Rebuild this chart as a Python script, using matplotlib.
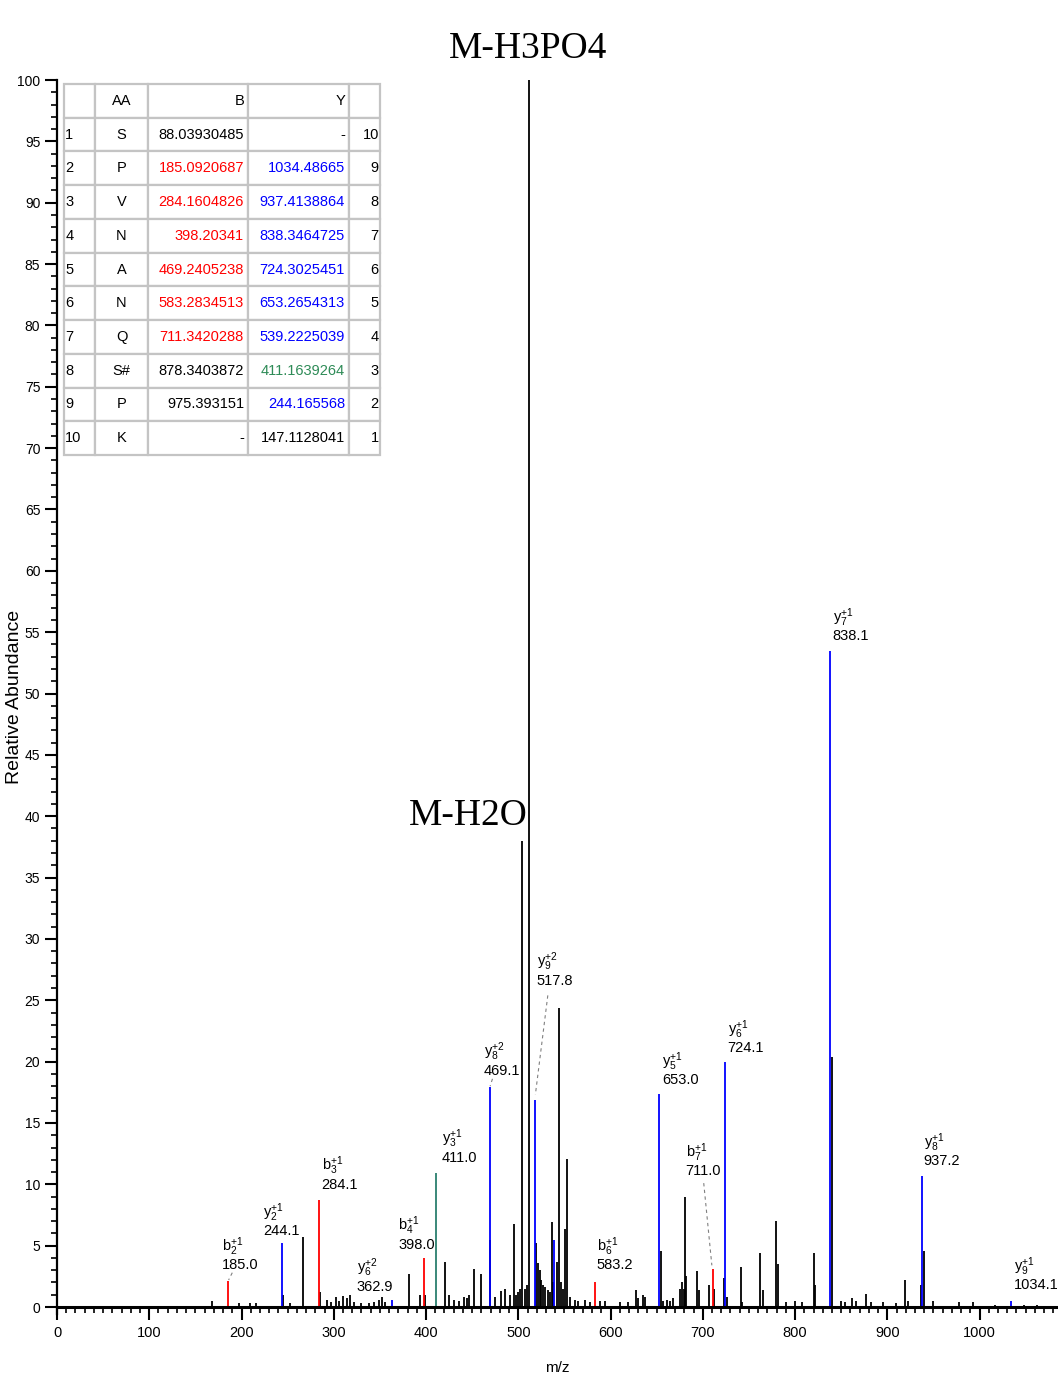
import matplotlib.pyplot as plt
from matplotlib.ticker import MultipleLocator
from matplotlib.table import Table
from matplotlib.font_manager import FontProperties

sans = ['Liberation Sans', 'DejaVu Sans']
plt.rcParams['font.family'] = sans
plt.rcParams['mathtext.fontset'] = 'custom'
plt.rcParams['mathtext.rm'] = 'Liberation Sans'
plt.rcParams['mathtext.it'] = 'Liberation Sans'

# assigned fragment ions
ion_mz = [185.0, 244.1, 284.1, 362.9, 398.0, 411.0, 469.1, 517.8, 539.2,
          583.2, 653.0, 711.0, 724.1, 838.1, 937.2, 1034.1]
ion_int = [2.1, 5.2, 8.7, 0.6, 4.0, 10.9, 17.9, 16.9, 5.5,
           2.0, 17.4, 3.1, 20.0, 53.5, 10.7, 0.5]
ion_type = ['b', 'y', 'b', 'y', 'b', 'y', 'y', 'y', 'y',
            'b', 'y', 'b', 'y', 'y', 'y', 'y']
ion_num = [2, 2, 3, 6, 4, 3, 8, 9, 4, 6, 5, 7, 6, 7, 8, 9]
ion_charge = [1, 1, 1, 2, 1, 1, 2, 2, 1, 1, 1, 1, 1, 1, 1, 1]

# precursor neutral losses
prec_mz = [503.8, 511.7]
prec_int = [38.0, 100.0]
prec_name = ['M-H2O', 'M-H3PO4']

# unassigned peaks
other_mz = [167.6, 197.5, 209.0, 216.0, 245.2, 252.4, 266.9, 285.2, 293.0,
            297.0, 302.0, 306.0, 310.0, 314.0, 318.0, 322.0, 330.0, 338.0,
            344.0, 349.0, 351.8, 356.0, 381.7, 393.3, 399.2, 421.1, 425.0,
            430.0, 436.0, 441.0, 444.0, 447.0, 451.8, 460.1, 469.8, 475.0,
            481.8, 485.4, 490.8, 495.1, 498.0, 500.0, 502.0, 507.0, 509.0,
            519.7, 521.5, 523.0, 525.0, 527.0, 529.0, 532.0, 534.0, 536.6,
            538.0, 542.1, 544.2, 546.0, 548.0, 551.0, 552.5, 556.0, 561.0,
            565.0, 572.0, 578.0, 589.0, 594.0, 610.0, 619.0, 627.3, 629.8,
            635.2, 637.8, 654.7, 657.0, 661.0, 664.0, 668.0, 674.9, 677.9,
            679.3, 681.1, 682.3, 694.1, 695.5, 706.4, 712.5, 723.4, 726.6,
            741.0, 743.0, 762.4, 764.9, 779.7, 781.1, 790.0, 800.0, 808.0,
            820.5, 822.0, 839.6, 850.0, 853.7, 862.0, 866.3, 877.2, 882.6,
            895.3, 909.7, 919.5, 922.4, 936.4, 939.3, 949.4, 977.6, 992.7,
            1016.3, 1048.0, 1062.0]
other_int = [0.5, 0.3, 0.3, 0.3, 1.0, 0.3, 5.7, 1.2, 0.6,
             0.4, 0.8, 0.5, 0.9, 0.7, 1.0, 0.4, 0.3, 0.3,
             0.4, 0.6, 0.8, 0.4, 2.7, 1.0, 1.0, 3.7, 1.0,
             0.6, 0.5, 0.8, 0.7, 1.0, 3.1, 2.7, 5.5, 0.8,
             1.3, 1.5, 1.0, 6.8, 1.0, 1.2, 1.5, 1.5, 1.8,
             5.2, 3.6, 3.0, 2.2, 1.8, 1.6, 1.4, 1.2, 6.9,
             2.0, 3.7, 24.4, 2.0, 1.5, 6.4, 12.1, 0.8, 0.6,
             0.5, 0.6, 0.4, 0.5, 0.5, 0.4, 0.4, 1.4, 0.7,
             1.0, 0.8, 4.6, 0.5, 0.6, 0.5, 0.7, 1.5, 2.0,
             1.5, 9.0, 2.5, 2.9, 1.4, 1.8, 1.5, 2.4, 0.8,
             3.3, 0.4, 4.4, 1.4, 7.0, 3.5, 0.4, 0.5, 0.4,
             4.4, 1.8, 20.4, 0.5, 0.4, 0.7, 0.5, 1.1, 0.4,
             0.4, 0.3, 2.2, 0.5, 1.8, 4.6, 0.5, 0.4, 0.4,
             0.2, 0.2, 0.2]

# sequence table
seq_aa = ['S', 'P', 'V', 'N', 'A', 'N', 'Q', 'S#', 'P', 'K']
seq_b = ['88.03930485', '185.0920687', '284.1604826', '398.20341', '469.2405238',
         '583.2834513', '711.3420288', '878.3403872', '975.393151', '-']
seq_y = ['-', '1034.48665', '937.4138864', '838.3464725', '724.3025451',
         '653.2654313', '539.2225039', '411.1639264', '244.165568', '147.1128041']

# styling / layout
RED, BLUE, TEAL, GREEN = '#ff0000', '#0000ff', '#2b7f6e', '#2e8b57'
ion_color = [RED, BLUE, RED, BLUE, RED, TEAL, BLUE, BLUE, BLUE,
             RED, BLUE, RED, BLUE, BLUE, BLUE, BLUE]
# label anchor (left, bottom) in data coords, None = not labelled
label_pos = [(178.4, 2.85), (223.2, 5.6), (286.7, 9.4), (324.7, 1.1), (369.8, 4.5),
             (416.8, 11.6), (462.6, 18.7), (520.0, 26.0), None,
             (585.0, 2.85), (655.5, 17.9), (681.5, 10.5), (727.0, 20.5),
             (840.7, 54.1), (939.3, 11.3), (1036.8, 1.2)]
connectors = {7: (532.0, 25.4, 518.5, 17.3), 11: (701.0, 10.1, 709.8, 3.4),
              6: (472.0, 18.6, 469.5, 18.0), 0: (190.0, 2.8, 186.0, 2.2)}
b_colors = ['k'] + [RED] * 6 + ['k', 'k', 'k']
y_colors = ['k'] + [BLUE] * 6 + [GREEN, BLUE, 'k']

fig = plt.figure(figsize=(10.58, 13.8), dpi=100)
ax = fig.add_axes([57 / 1058, (1380 - 1314.4) / 1380, 1001 / 1058, (1314.4 - 80) / 1380])

ax.vlines(other_mz, 0, other_int, color='black', lw=1.3)
ax.vlines(prec_mz, 0, prec_int, color='black', lw=1.3)
ax.vlines(ion_mz, 0, ion_int, colors=ion_color, lw=1.3)

for i, pos in enumerate(label_pos):
    if pos is None:
        continue
    txt = '$\\mathrm{%s}_{%d}^{+%d}$\n%.1f' % (ion_type[i], ion_num[i], ion_charge[i], ion_mz[i])
    ax.text(pos[0], pos[1], txt, ha='left', va='bottom', fontsize=10.5, linespacing=1.05)

for i, (x0, y0, x1, y1) in connectors.items():
    ax.plot([x0, x1], [y0, y1], color='gray', lw=0.8, ls=(0, (3, 3)))

serif = FontProperties(family=['Liberation Serif', 'DejaVu Serif'], size=27)
ax.text(prec_mz[1] - 1.0, 101.8, prec_name[1], ha='center', va='baseline',
        fontproperties=serif, clip_on=False)
ax.text(prec_mz[1] - 1.2, 39.3, prec_name[0], ha='right', va='baseline',
        fontproperties=serif)

# table
col_w = [31, 53, 100, 101, 31]
col_loc = ['left', 'center', 'right', 'right', 'right']
rows = [['', 'AA', 'B', 'Y', '']]
for k in range(10):
    rows.append([str(k + 1), seq_aa[k], seq_b[k], seq_y[k], str(10 - k)])
tbl = Table(ax, bbox=[(64 - 57) / 1001, (1314.4 - 455) / 1234.4, 316 / 1001, 371 / 1234.4])
tfont = FontProperties(family=sans, size=10.5)
for r, row in enumerate(rows):
    for c, txt in enumerate(row):
        cell = tbl.add_cell(r, c, width=col_w[c], height=1, text=txt, loc=col_loc[c],
                            facecolor='white', edgecolor='#c4c4c4',
                            fontproperties=tfont)
        cell.PAD = 0.04
        cell.set_linewidth(1.6)
        if r > 0 and c == 2:
            cell.get_text().set_color(b_colors[r - 1])
        if r > 0 and c == 3:
            cell.get_text().set_color(y_colors[r - 1])
tbl.auto_set_font_size(False)
ax.add_table(tbl)

ax.set_xlim(0, 1085)
ax.set_ylim(-0.6, 100)
ax.spines['top'].set_visible(False)
ax.spines['right'].set_visible(False)
ax.spines['bottom'].set_position(('data', 0))
ax.spines['bottom'].set_linewidth(2.2)
ax.spines['left'].set_linewidth(1.6)
ax.xaxis.set_major_locator(MultipleLocator(100))
ax.xaxis.set_minor_locator(MultipleLocator(10))
ax.yaxis.set_major_locator(MultipleLocator(5))
ax.yaxis.set_minor_locator(MultipleLocator(1))
ax.tick_params(which='major', length=9, width=1.5, labelsize=10.5, pad=5)
ax.tick_params(axis='y', which='major', labelsize=10, pad=3)
ax.tick_params(which='minor', length=4, width=1.2)

ax.set_xlabel('m/z', fontsize=11)
ax.xaxis.set_label_coords(0.5, -0.038)
ax.set_ylabel('Relative Abundance', fontsize=14)
ax.yaxis.set_label_coords(-0.034, 0.5)

fig.savefig('out.png', dpi=100)
